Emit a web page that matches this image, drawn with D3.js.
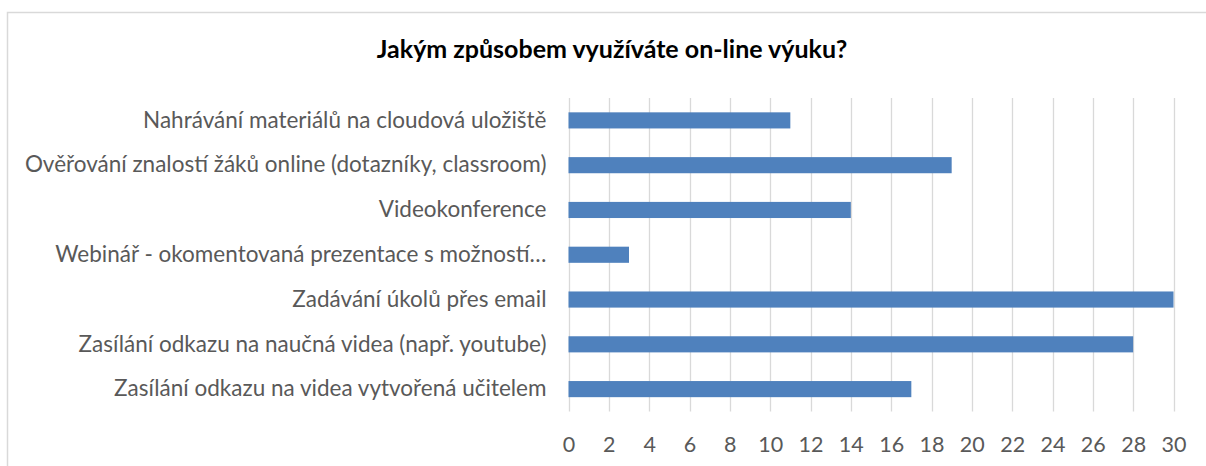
<!DOCTYPE html>
<html>
<head>
<meta charset="utf-8">
<script src="https://cdn.jsdelivr.net/npm/d3@7"></script>
<style>
  html, body { margin: 0; padding: 0; background: #fff; }
  svg { display: block; }
</style>
</head>
<body>
<svg id="chart" width="1206" height="466"></svg>
<script>
// Survey answers: ways online teaching is used (top to bottom as displayed)
const categories = [
  "Nahrávání materiálů na cloudová uložiště",
  "Ověřování znalostí žáků online (dotazníky, classroom)",
  "Videokonference",
  "Webinář - okomentovaná prezentace s možností…",
  "Zadávání úkolů přes email",
  "Zasílání odkazu na naučná videa (např. youtube)",
  "Zasílání odkazu na videa vytvořená učitelem"
];
const counts = [11, 19, 14, 3, 30, 28, 17];
const tickValues = [0, 2, 4, 6, 8, 10, 12, 14, 16, 18, 20, 22, 24, 26, 28, 30];
const titleText = "Jakým způsobem využíváte on-line výuku?";

const svg = d3.select("#chart");
const W = 1206, H = 466;
const font = "Lato, 'Open Sans', sans-serif";

// chart area frame
svg.append("rect")
  .attr("x", 7.5).attr("y", 12.5)
  .attr("width", W + 10).attr("height", H + 10)
  .attr("fill", "#fff")
  .attr("stroke", "#d9d9d9")
  .attr("stroke-width", 1.5);

const plot = { left: 568.5, right: 1173.5, top: 98, bottom: 411.5 };

const x = d3.scaleLinear().domain([0, 30]).range([plot.left, plot.right]);
const y = d3.scaleBand()
  .domain(categories)
  .range([plot.top, plot.bottom])
  .paddingInner(0.64)
  .paddingOuter(0.32);

// vertical gridlines
svg.append("g")
  .selectAll("line")
  .data(tickValues)
  .join("line")
  .attr("x1", d => Math.round(x(d)) + 0.5)
  .attr("x2", d => Math.round(x(d)) + 0.5)
  .attr("y1", plot.top)
  .attr("y2", plot.bottom)
  .attr("stroke", "#d9d9d9")
  .attr("stroke-width", 1.3);

// bars
svg.append("g")
  .selectAll("rect")
  .data(categories)
  .join("rect")
  .attr("x", x(0))
  .attr("y", d => y(d))
  .attr("width", (d, i) => x(counts[i]) - x(0))
  .attr("height", y.bandwidth())
  .attr("fill", "#4f81bd");

// category axis (labels only)
const yAxis = d3.axisLeft(y).tickSize(0).tickPadding(22);
const gy = svg.append("g")
  .attr("transform", `translate(${plot.left},0)`)
  .call(yAxis);
gy.select(".domain").remove();
gy.selectAll("text")
  .attr("font-family", font)
  .attr("font-size", 22.5)
  .attr("fill", "#595959");

// value axis (labels only)
const xAxis = d3.axisBottom(x).tickValues(tickValues).tickSize(0).tickPadding(25);
const gx = svg.append("g")
  .attr("transform", `translate(0,${plot.bottom})`)
  .call(xAxis);
gx.select(".domain").remove();
gx.selectAll("text")
  .attr("font-family", font)
  .attr("font-size", 21.5)
  .attr("fill", "#595959");

// title
svg.append("text")
  .attr("x", 612)
  .attr("y", 58)
  .attr("text-anchor", "middle")
  .attr("font-family", font)
  .attr("font-weight", "bold")
  .attr("font-size", 25)
  .attr("fill", "#000")
  .text(titleText);
</script>
</body>
</html>
